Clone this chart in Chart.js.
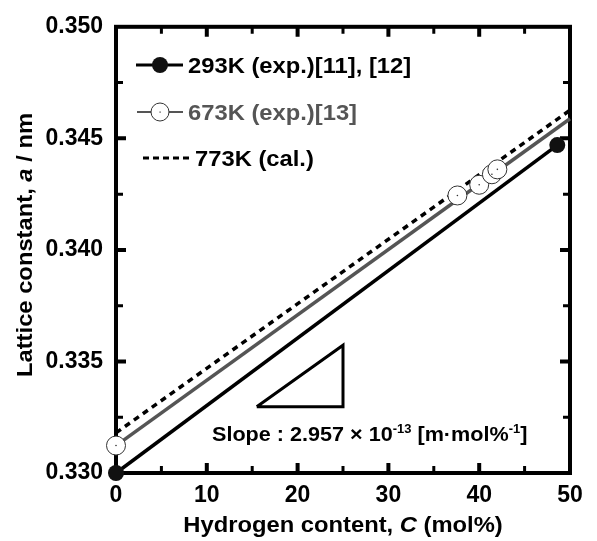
<!DOCTYPE html>
<html>
<head>
<meta charset="utf-8">
<script src="https://cdn.jsdelivr.net/npm/chart.js@4/dist/chart.umd.min.js"></script>
<style>
  html, body { margin: 0; padding: 0; background: #fff; }
  #wrap { width: 597px; height: 541px; }
</style>
</head>
<body>
<div id="wrap"><canvas id="chart" width="597" height="541"></canvas></div>
<script>
// hydrogen content (mol%) and lattice constant (nm)
const exp293X = [0, 48.6];
const exp293Y = [0.330, 0.3447];
const exp673X = [0, 37.6, 40.0, 41.4, 42.0];
const exp673Y = [0.33123, 0.34244, 0.34292, 0.34339, 0.34361];
const fitX = [0, 50];
const fit673Y = [0.33123, 0.34588];
const cal773Y = [0.3318, 0.34626];
const triX = [15.5, 25, 25, 15.5];
const triY = [0.33297, 0.33297, 0.33573, 0.33297];

const xTicks = [0, 10, 20, 30, 40, 50];
const xMinor = [5, 15, 25, 35, 45];
const yTicks = [0.330, 0.335, 0.340, 0.345, 0.350];
const yMinor = [0.3325, 0.3375, 0.3425, 0.3475];

const FONT = "'Liberation Sans', Arial, sans-serif";
const GRAY = "#555";
const STRETCH = 1.08; // the original lettering is a little wider than Arial

const pts = (xs, ys) => xs.map((x, i) => ({ x, y: ys[i] }));

function frameAndTicks(chart) {
  const { ctx, chartArea: a, scales: { x, y } } = chart;
  ctx.save();
  ctx.strokeStyle = "#000";
  ctx.lineWidth = 4;
  ctx.strokeRect(a.left, a.top, a.right - a.left, a.bottom - a.top);
  const tick = (list, len, w) => {
    ctx.lineWidth = w;
    ctx.beginPath();
    list.forEach((v) => {
      const px = x.getPixelForValue(v);
      ctx.moveTo(px, a.bottom); ctx.lineTo(px, a.bottom - len);
      ctx.moveTo(px, a.top); ctx.lineTo(px, a.top + len);
    });
    ctx.stroke();
  };
  const ytick = (list, len, w) => {
    ctx.lineWidth = w;
    ctx.beginPath();
    list.forEach((v) => {
      const py = y.getPixelForValue(v);
      ctx.moveTo(a.left, py); ctx.lineTo(a.left + len, py);
      ctx.moveTo(a.right, py); ctx.lineTo(a.right - len, py);
    });
    ctx.stroke();
  };
  tick(xTicks.slice(1, -1), 10, 4);
  tick(xMinor, 7, 3);
  ytick(yTicks.slice(1, -1), 10, 4);
  ytick(yMinor, 7, 3);
  ctx.restore();
}

// draw a row of text parts: [text, italic?, superscript?]
function drawParts(ctx, parts, x, y, size, align) {
  const font = (it, sup) => `${it ? "italic " : ""}bold ${sup ? Math.round(size * 0.62) : size}px ${FONT}`;
  let total = 0;
  parts.forEach(([t, it, sup]) => { ctx.font = font(it, sup); total += ctx.measureText(t).width; });
  const x0 = align === "center" ? x - (total * STRETCH) / 2 : x;
  ctx.save();
  ctx.translate(x0, y);
  ctx.scale(STRETCH, 1);
  ctx.textAlign = "left";
  let cx = 0;
  parts.forEach(([t, it, sup]) => {
    ctx.font = font(it, sup);
    ctx.fillText(t, cx, sup ? -size * 0.42 : 0);
    cx += ctx.measureText(t).width;
  });
  ctx.restore();
}

function annotations(chart) {
  const { ctx } = chart;
  ctx.save();
  ctx.textBaseline = "alphabetic";

  // legend
  ctx.lineWidth = 3;
  ctx.strokeStyle = "#000";
  ctx.beginPath(); ctx.moveTo(136, 65); ctx.lineTo(183, 65); ctx.stroke();
  ctx.fillStyle = "#111";
  ctx.beginPath(); ctx.arc(160, 65, 8, 0, Math.PI * 2); ctx.fill();
  ctx.fillStyle = "#000";
  drawParts(ctx, [["293K (exp.)[11], [12]"]], 188, 73, 22);

  ctx.strokeStyle = GRAY;
  ctx.lineWidth = 2;
  ctx.beginPath(); ctx.moveTo(137, 112); ctx.lineTo(183, 112); ctx.stroke();
  ctx.fillStyle = "#fff";
  ctx.strokeStyle = "#333";
  ctx.lineWidth = 1;
  ctx.beginPath(); ctx.arc(160, 112, 9, 0, Math.PI * 2); ctx.fill(); ctx.stroke();
  ctx.fillStyle = "#333";
  ctx.fillRect(159.5, 111.5, 1.2, 1.2);
  ctx.fillStyle = GRAY;
  drawParts(ctx, [["673K (exp.)[13]"]], 188, 120, 22);

  ctx.strokeStyle = "#000";
  ctx.lineWidth = 3;
  ctx.setLineDash([6, 4]);
  ctx.beginPath(); ctx.moveTo(143, 158); ctx.lineTo(192, 158); ctx.stroke();
  ctx.setLineDash([]);
  ctx.fillStyle = "#000";
  drawParts(ctx, [["773K (cal.)"]], 195, 166, 22);

  // slope note
  drawParts(ctx, [["Slope : 2.957 \u00d7 10"], ["-13", false, true], [" [m\u00b7mol%"], ["-1", false, true], ["]"]], 212, 441, 20);

  // axis titles
  drawParts(ctx, [["Hydrogen content, "], ["C", true], [" (mol%)"]], 343, 532, 22, "center");
  ctx.translate(32, 245);
  ctx.rotate(-Math.PI / 2);
  drawParts(ctx, [["Lattice constant, "], ["a", true], [" / nm"]], 0, 0, 22, "center");
  ctx.restore();
}

const plot = {
  id: "plotDecor",
  beforeDatasetsDraw: frameAndTicks,
  afterDraw: annotations,
};

new Chart(document.getElementById("chart"), {
  type: "scatter",
  data: {
    datasets: [
      {
        label: "673K (exp.) centre",
        data: pts(exp673X, exp673Y),
        pointRadius: 0.8,
        pointBackgroundColor: "#333",
        pointBorderWidth: 0,
        showLine: false,
        clip: false,
        order: 0,
      },
      {
        label: "673K (exp.)",
        data: pts(exp673X, exp673Y),
        pointRadius: 9.5,
        pointBackgroundColor: "#fff",
        pointBorderColor: "#333",
        pointBorderWidth: 1,
        showLine: false,
        clip: false,
        order: 1,
      },
      {
        label: "293K (exp.)",
        data: pts(exp293X, exp293Y),
        pointRadius: 8,
        pointBackgroundColor: "#111",
        pointBorderWidth: 0,
        showLine: true,
        borderColor: "#000",
        borderWidth: 3.5,
        clip: false,
        order: 2,
      },
      {
        label: "673K fit",
        data: pts(fitX, fit673Y),
        pointRadius: 0,
        showLine: true,
        borderColor: GRAY,
        borderWidth: 3.5,
        clip: false,
        order: 3,
      },
      {
        label: "773K (cal.)",
        data: pts(fitX, cal773Y),
        pointRadius: 0,
        showLine: true,
        borderColor: "#000",
        borderWidth: 3.5,
        borderDash: [6, 5],
        clip: false,
        order: 4,
      },
      {
        label: "slope triangle",
        data: pts(triX, triY),
        pointRadius: 0,
        showLine: true,
        borderColor: "#000",
        borderWidth: 3,
        order: 5,
      },
    ],
  },
  options: {
    responsive: false,
    animation: false,
    layout: { padding: { left: 0, top: 18, right: 27, bottom: 0 } },
    plugins: { legend: { display: false }, tooltip: { enabled: false } },
    scales: {
      x: {
        type: "linear",
        min: 0,
        max: 50,
        afterBuildTicks: (s) => { s.ticks = xTicks.map((v) => ({ value: v })); },
        afterFit: (s) => { s.height = 68; },
        grid: { display: false, drawTicks: false },
        border: { display: false },
        ticks: { color: "#000", padding: 9, font: { family: FONT, size: 23, weight: "bold" } },
      },
      y: {
        type: "linear",
        min: 0.33,
        max: 0.35,
        afterBuildTicks: (s) => { s.ticks = yTicks.map((v) => ({ value: v })); },
        afterFit: (s) => { s.width = 116; },
        grid: { display: false, drawTicks: false },
        border: { display: false },
        ticks: {
          color: "#000",
          padding: 13,
          font: { family: FONT, size: 23, weight: "bold" },
          callback: (v) => Number(v).toFixed(3),
        },
      },
    },
  },
  plugins: [plot],
});
</script>
</body>
</html>
